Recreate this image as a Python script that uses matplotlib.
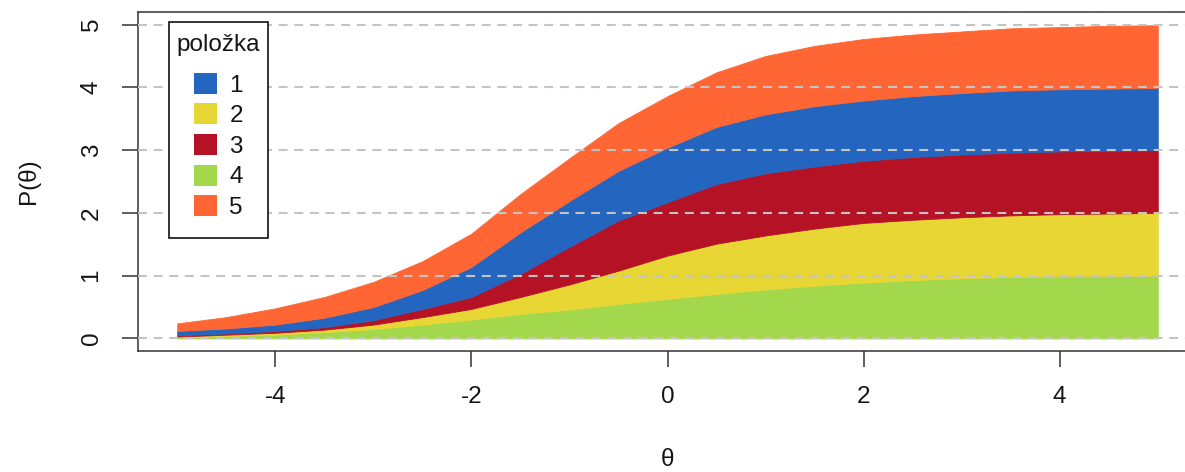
import numpy as np
import matplotlib
matplotlib.use("Agg")
import matplotlib.pyplot as plt
from matplotlib.patches import Patch, Rectangle

# ---- data ----
theta = [-5.0, -4.5, -4.0, -3.5, -3.0, -2.5, -2.0, -1.5, -1.0, -0.5, 0.0,
         0.5, 1.0, 1.5, 2.0, 2.5, 3.0, 3.5, 4.0, 4.5, 5.0]

item1 = [0.07, 0.08, 0.10, 0.15, 0.21, 0.30, 0.48, 0.66, 0.73, 0.79, 0.87,
         0.91, 0.94, 0.96, 0.96, 0.97, 0.98, 0.99, 0.99, 0.99, 0.99]
item2 = [0.01, 0.02, 0.03, 0.04, 0.07, 0.12, 0.17, 0.27, 0.40, 0.53, 0.69,
         0.80, 0.86, 0.91, 0.95, 0.96, 0.97, 0.98, 0.99, 1.00, 1.00]
item3 = [0.02, 0.02, 0.03, 0.04, 0.07, 0.13, 0.19, 0.37, 0.60, 0.80, 0.85,
         0.95, 0.99, 0.99, 0.99, 1.00, 1.00, 1.00, 1.00, 1.00, 1.00]
item4 = [0.02, 0.04, 0.06, 0.10, 0.15, 0.22, 0.30, 0.39, 0.46, 0.55, 0.63,
         0.71, 0.78, 0.84, 0.89, 0.93, 0.96, 0.98, 0.99, 0.99, 1.00]
item5 = [0.12, 0.18, 0.26, 0.33, 0.40, 0.46, 0.53, 0.61, 0.68, 0.76, 0.82,
         0.87, 0.93, 0.96, 0.98, 0.98, 0.98, 0.99, 0.99, 1.00, 1.00]

items = ["1", "2", "3", "4", "5"]
colors = {"1": "#2466BF", "2": "#E8D634", "3": "#B61226",
          "4": "#A4D84C", "5": "#FF6633"}
stack_order = ["4", "2", "3", "1", "5"]
series = {"1": item1, "2": item2, "3": item3, "4": item4, "5": item5}

x_ticks = [-4, -2, 0, 2, 4]
y_ticks = [0, 1, 2, 3, 4, 5]

# ---- figure ----
plt.rcParams["font.family"] = ["Liberation Sans", "DejaVu Sans"]
plt.rcParams["axes.unicode_minus"] = False
W, H = 1185, 472
fig = plt.figure(figsize=(W / 100, H / 100), dpi=100)
L, R, T, B = 138, 1197, 12, 351
ax = fig.add_axes([L / W, 1 - B / H, (R - L) / W, (B - T) / H])

polys = ax.stackplot(theta, *[series[k] for k in stack_order],
                     colors=[colors[k] for k in stack_order])
for p, k in zip(polys, stack_order):
    p.set_edgecolor(colors[k])
    p.set_linewidth(0.6)

ax.set_xlim(-5.4, 5.4)
ax.set_ylim(-0.2, 5.2)
ax.set_xticks(x_ticks)
ax.set_xticklabels([str(v) for v in x_ticks])
ax.set_yticks(y_ticks)
ax.set_yticklabels([str(v) for v in y_ticks], rotation=90, va="center")

fs = 17.5
txt = "#151515"
ax.tick_params(axis="both", length=11.5, width=1.1, color="#333333",
               labelsize=fs, labelcolor=txt)
ax.tick_params(axis="x", pad=14)
ax.tick_params(axis="y", pad=14)

ax.set_axisbelow(False)
ax.yaxis.grid(True, color="#c4c4c4", linewidth=1.5, linestyle=(0, (4.3, 3.2)))
ax.xaxis.grid(False)

for s in ax.spines.values():
    s.set_linewidth(1.1)
    s.set_color("#333333")

ax.set_xlabel("θ", fontsize=fs, color=txt)
ax.xaxis.label.set_va("center")
ax.xaxis.set_label_coords(0.5, (B - 460) / (B - T))
ax.set_ylabel("P(θ)", fontsize=fs, color=txt)
ax.yaxis.label.set_va("center")
ax.yaxis.label.set_ha("center")
ax.yaxis.set_label_coords((29 - L) / (R - L), 0.5)

# legend frame
fx0, fy0, fx1, fy1 = 169, 22, 268, 238
frame = Rectangle((fx0 / W, 1 - fy1 / H), (fx1 - fx0) / W, (fy1 - fy0) / H,
                  transform=fig.transFigure, facecolor="white",
                  edgecolor="#111111", linewidth=1.2, zorder=4)
fig.add_artist(frame)

handles = [Patch(facecolor=colors[k], edgecolor="none", label=k) for k in items]
leg = fig.legend(handles=handles, title="položka", loc="upper center",
                 bbox_to_anchor=((fx0 + fx1) / 2 / W, 1 - 34 / H),
                 frameon=False, fontsize=fs, title_fontsize=fs,
                 handlelength=0.95, handleheight=0.95, handletextpad=0.5,
                 labelspacing=0.28, borderpad=0.0, borderaxespad=0.0)
leg.set_zorder(5)
for t in leg.get_texts():
    t.set_color(txt)
leg.get_title().set_color(txt)
leg._legend_box.sep = 12

fig.savefig("out.png", dpi=100)
